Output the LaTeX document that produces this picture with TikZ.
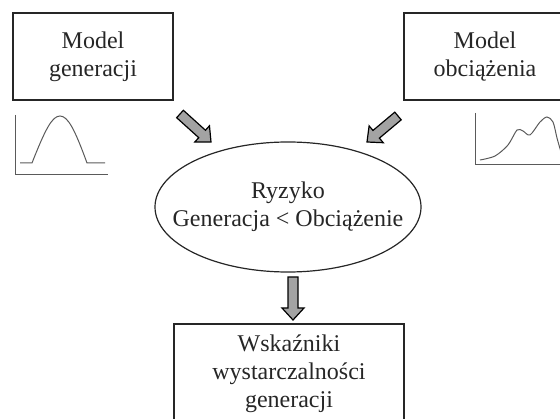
\documentclass[tikz,border=0pt]{standalone}
\usepackage{fontspec}
\setmainfont{Liberation Serif}
\usepackage{xcolor}
\usepackage{tikz}
\usetikzlibrary{shapes,positioning,calc}

\definecolor{arrowgray}{HTML}{A3A3A3}
\definecolor{curvegray}{HTML}{5A5A5A}
\definecolor{textgray}{HTML}{262626}

% block arrow from (#1) to (#2)
\newcommand{\blockarrow}[2]{%
    \draw[blockarr] ($(#1)!5pt!90:(#2)$) -- ($($(#2)!12pt!(#1)$)!5pt!90:(#2)$)
        -- ($($(#2)!12pt!(#1)$)!11pt!90:(#2)$) -- (#2)
        -- ($($(#2)!12pt!(#1)$)!11pt!-90:(#2)$) -- ($($(#2)!12pt!(#1)$)!5pt!-90:(#2)$)
        -- ($(#1)!5pt!-90:(#2)$) -- cycle;}

\begin{document}
\begin{tikzpicture}[x=1pt, y=-1pt,
    txt/.style={font=\fontsize{24}{28}\selectfont, text=textgray, align=center},
    modelbox/.style={txt, draw=textgray, line width=1.6pt, minimum width=160, minimum height=87},
    riskline/.style={draw=textgray, line width=1.2pt},
    blockarr/.style={fill=arrowgray, draw=black, line width=1.2pt, line join=miter},
    sketch/.style={curvegray, line width=1pt}]
    \useasboundingbox (0,0) rectangle (560,419);
    \clip (0,0) rectangle (560,419);

    % models
    \node[modelbox] (gen) at (93,56.5) {Model\\generacji};
    \node[modelbox, minimum width=162] (load) at (485,56.5) {Model\\obciążenia};

    % risk
    \node[txt] (risk) at (288,207) {Ryzyko\\Generacja < Obciążenie};
    \draw[riskline] (risk.center) ellipse [x radius=133, y radius=65];

    % indices
    \node[modelbox, minimum width=230, minimum height=100] (lole) at (289,374) {Wskaźniki\\wystarczalności\\generacji};

    % arrows
    \coordinate (genA) at (180,114);
    \coordinate (genB) at (211,142);
    \coordinate (loadA) at (398,116);
    \coordinate (loadB) at (367,142);
    \coordinate (riskA) at (293,277);
    \coordinate (riskB) at (293,320);
    \blockarrow{genA}{genB}
    \blockarrow{loadA}{loadB}
    \blockarrow{riskA}{riskB}

    % generation curve
    \draw[sketch] (15,115) -- (15,175) -- (108,175);
    \draw[sketch] (20,163) -- (32,163) .. controls (45,130) and (52,116) .. (60,116)
        .. controls (68,116) and (75,130) .. (87,163) -- (105,163);

    % load curve
    \draw[sketch] (475,113) -- (475,165) -- (560,165);
    \draw[sketch] plot[smooth] coordinates {(480,160) (495,156) (508,145) (517,130) (523,131) (530,135) (540,122) (547,117) (553,122) (557,138) (561,152)};
\end{tikzpicture}
\end{document}
